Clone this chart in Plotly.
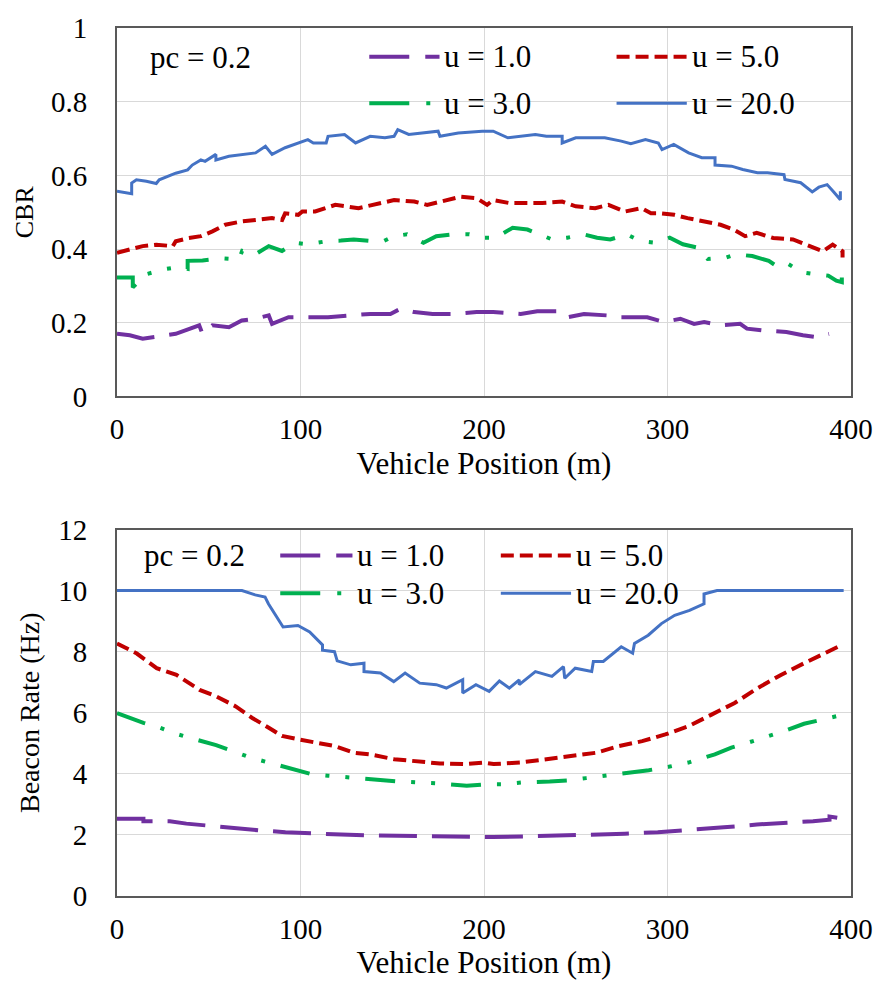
import plotly.graph_objects as go

# ---------------- CBR vs vehicle position (pc = 0.2) ----------------
cbr_u1_x = [0, 7, 14, 23, 32, 44.8, 46.6, 52, 61, 68, 75.5, 82.7, 84.5, 93.5, 104, 115, 127.6, 138, 149, 154.5,
            162, 172, 183, 196, 205, 220, 229, 242, 245.5, 254.5, 267, 274.8, 289, 298, 307, 314.5, 320, 329,
            339.6, 343.3, 352, 364.8, 373.8, 381, 388]
cbr_u1_y = [0.170, 0.166, 0.157, 0.164, 0.170, 0.193, 0.170, 0.193, 0.188, 0.206, 0.211, 0.220, 0.197, 0.215,
            0.215, 0.215, 0.220, 0.224, 0.224, 0.238, 0.229, 0.224, 0.224, 0.229, 0.229, 0.224, 0.231, 0.231,
            0.215, 0.224, 0.220, 0.215, 0.215, 0.202, 0.211, 0.197, 0.202, 0.193, 0.197, 0.184, 0.179, 0.175,
            0.166, 0.161, 0.170]

cbr_u3_x = [0, 8.6, 8.6, 16, 26.7, 32, 38.5, 38.5, 46.6, 57.4, 66.4, 68.2, 75.5, 82.7, 89.9, 97, 104, 115, 122,
            129, 138.2, 145.4, 150.8, 158, 167, 174, 183, 192, 199.6, 206.5, 215.6, 223.7, 232.7, 237.2, 245.4,
            254.4, 261.6, 268.8, 277.8, 285, 294, 301.2, 308.4, 316.5, 321.9, 331.8, 337.2, 346.2, 355.2, 360.6,
            366, 373.2, 380.4, 387.6, 392, 395, 395]
cbr_u3_y = [0.323, 0.323, 0.296, 0.332, 0.346, 0.350, 0.346, 0.368, 0.369, 0.375, 0.372, 0.395, 0.386, 0.408,
            0.395, 0.417, 0.413, 0.422, 0.423, 0.426, 0.422, 0.422, 0.435, 0.440, 0.417, 0.435, 0.440, 0.440,
            0.431, 0.431, 0.458, 0.453, 0.435, 0.426, 0.431, 0.440, 0.431, 0.426, 0.440, 0.422, 0.417, 0.431,
            0.413, 0.404, 0.373, 0.377, 0.386, 0.381, 0.368, 0.350, 0.359, 0.337, 0.332, 0.328, 0.314, 0.310,
            0.323]

cbr_u5_x = [0, 7, 14, 21.4, 30.4, 32, 39, 45.7, 52, 59, 68, 75.5, 84.5, 90, 91.6, 98.8, 101, 108, 119, 131.6,
            140.6, 151, 162, 169, 176.6, 187, 196, 201.7, 205, 213.7, 231.7, 242.6, 250, 260.6, 267.8, 276.8,
            285.8, 291, 296.6, 303.7, 310.9, 319.9, 328.9, 336, 342.3, 348.6, 357.6, 368.4, 375.6, 384.6, 390,
            395.4, 395.4]
cbr_u5_y = [0.390, 0.399, 0.408, 0.412, 0.408, 0.421, 0.430, 0.435, 0.448, 0.466, 0.475, 0.479, 0.484, 0.479,
            0.497, 0.493, 0.502, 0.502, 0.520, 0.511, 0.520, 0.533, 0.529, 0.520, 0.529, 0.542, 0.538, 0.520,
            0.533, 0.525, 0.525, 0.529, 0.516, 0.511, 0.520, 0.502, 0.511, 0.497, 0.497, 0.493, 0.484, 0.475,
            0.466, 0.453, 0.435, 0.444, 0.430, 0.426, 0.412, 0.394, 0.412, 0.394, 0.377]

cbr_u20_x = [0, 8, 8, 10.6, 16, 21.4, 23, 32, 38.5, 41, 45.7, 48, 53.9, 53.9, 61, 68, 75.5, 80.9, 84.5, 91.6,
             97, 104, 107, 114, 115, 124, 130, 138, 146, 151, 153, 159, 175, 176, 186, 199, 205, 213, 228, 234,
             242.6, 242.6, 250, 265.8, 274.8, 280, 288, 295, 297, 303.4, 311.5, 318.7, 325.9, 325.9, 334.9, 341,
             349, 354.5, 363.5, 364, 372.6, 378.9, 382.5, 387, 390.6, 394.2, 394.2]
cbr_u20_y = [0.557, 0.550, 0.579, 0.588, 0.584, 0.578, 0.588, 0.606, 0.615, 0.628, 0.642, 0.638, 0.657, 0.642,
             0.652, 0.657, 0.661, 0.679, 0.657, 0.675, 0.684, 0.697, 0.688, 0.688, 0.706, 0.711, 0.688, 0.706,
             0.702, 0.706, 0.724, 0.711, 0.720, 0.706, 0.715, 0.720, 0.720, 0.702, 0.711, 0.706, 0.706, 0.688,
             0.702, 0.702, 0.693, 0.686, 0.697, 0.688, 0.670, 0.684, 0.661, 0.648, 0.648, 0.628, 0.625, 0.616,
             0.607, 0.607, 0.602, 0.589, 0.580, 0.555, 0.568, 0.575, 0.555, 0.534, 0.557]

# ---------------- Beacon rate vs vehicle position (pc = 0.2) ----------------
br_u1_x = [0, 14.4, 14.4, 28.8, 37.8, 50.4, 63, 77.4, 91.8, 107.8, 122.2, 140.2, 158.2, 176.3, 194.2, 204.8,
           222.8, 240.8, 258.7, 276.7, 294.7, 312.7, 330.7, 348.7, 366.7, 379.3, 388.3, 388.3, 395.5]
br_u1_y = [2.53, 2.53, 2.45, 2.45, 2.37, 2.29, 2.24, 2.15, 2.09, 2.04, 2.01, 1.98, 1.97, 1.94, 1.93, 1.93,
           1.95, 1.98, 1.98, 2.04, 2.09, 2.16, 2.25, 2.34, 2.39, 2.45, 2.50, 2.60, 2.53]

br_u3_x = [0, 14.4, 22.5, 30.6, 39.6, 54, 63, 72.8, 82.7, 98.8, 106, 115, 125.8, 142.9, 153.7, 163.6, 174.4,
           190.6, 201.4, 210.6, 221.4, 235.8, 246.6, 255.6, 266.4, 280.8, 289.8, 300.6, 311.4, 325.8, 334.8,
           343.8, 352.8, 363.6, 374.4, 383.4, 392.4, 395]
br_u3_y = [5.99, 5.67, 5.53, 5.34, 5.18, 4.94, 4.75, 4.53, 4.37, 4.10, 3.99, 3.94, 3.88, 3.79, 3.75, 3.72, 3.69,
           3.61, 3.66, 3.66, 3.72, 3.75, 3.79, 3.86, 3.94, 4.05, 4.12, 4.23, 4.37, 4.64, 4.86, 5.02, 5.18, 5.40,
           5.64, 5.78, 5.89, 6.05]

br_u5_x = [0, 10.8, 21.6, 32.4, 45, 54, 64.7, 73.7, 82.7, 89.9, 98.8, 107.8, 118.6, 129.4, 138.4, 151, 163.6,
           176, 188.8, 199.6, 205.2, 219.6, 234, 248.4, 261, 273.6, 286.2, 298.8, 311.4, 324, 336.6, 349.2,
           361.8, 374.4, 385.2, 395]
br_u5_y = [8.27, 7.94, 7.46, 7.24, 6.75, 6.54, 6.21, 5.83, 5.51, 5.24, 5.13, 5.02, 4.91, 4.69, 4.63, 4.48, 4.42,
           4.34, 4.32, 4.37, 4.32, 4.37, 4.48, 4.59, 4.69, 4.91, 5.07, 5.29, 5.56, 5.94, 6.32, 6.81, 7.24, 7.62,
           7.94, 8.22]

br_u20_x = [0, 68.1, 75.3, 80.7, 82.5, 86, 90.5, 98.6, 105, 112, 112, 118.5, 120, 127.4, 134.6, 134.6, 143.6,
            150.8, 157, 165, 174, 179.5, 188.4, 188.4, 195.6, 202.8, 208.4, 213.8, 219.2, 219.2, 228, 237, 243.3,
            244, 249.7, 258.7, 259.6, 265, 274.8, 281, 282, 289.5, 296.7, 303.9, 312, 319.9, 319.9, 327, 396]
br_u20_y = [10.0, 10.0, 9.86, 9.79, 9.57, 9.25, 8.81, 8.86, 8.65, 8.22, 8.05, 8.0, 7.70, 7.57, 7.62, 7.35, 7.30,
            7.02, 7.30, 6.97, 6.92, 6.81, 7.08, 6.65, 6.92, 6.70, 7.04, 6.81, 7.08, 6.92, 7.35, 7.19, 7.51, 7.13,
            7.46, 7.35, 7.68, 7.68, 8.16, 7.95, 8.27, 8.54, 8.92, 9.19, 9.35, 9.57, 9.89, 10.0, 10.0]

x_ticks = [0, 100, 200, 300, 400]
cbr_ticks = [0, 0.2, 0.4, 0.6, 0.8, 1]
br_ticks = [0, 2, 4, 6, 8, 10, 12]

series_names = ["u = 1.0", "u = 3.0", "u = 5.0", "u = 20.0"]
series_colors = ["#7030A0", "#00B050", "#C00000", "#4472C4"]
series_widths = [4, 4, 4, 3]
series_dash = ["38px,15px", "30px,16px,4px,16px,4px,16px", "13px,6px", "solid"]
legend_dash = ["40px,16px", "40px,17px,4px,60px", "13px,6px", "solid"]

FONT = "Liberation Serif, Times New Roman, serif"

cbr = [(cbr_u1_x, cbr_u1_y), (cbr_u3_x, cbr_u3_y), (cbr_u5_x, cbr_u5_y), (cbr_u20_x, cbr_u20_y)]
br = [(br_u1_x, br_u1_y), (br_u3_x, br_u3_y), (br_u5_x, br_u5_y), (br_u20_x, br_u20_y)]

fig = go.Figure()
for i, (xs, ys) in enumerate(cbr):
    fig.add_trace(go.Scatter(x=xs, y=ys, mode="lines", name=series_names[i], showlegend=False,
                             line=dict(color=series_colors[i], width=series_widths[i], dash=series_dash[i]),
                             xaxis="x", yaxis="y"))
for i, (xs, ys) in enumerate(br):
    fig.add_trace(go.Scatter(x=xs, y=ys, mode="lines", name=series_names[i], showlegend=False,
                             line=dict(color=series_colors[i], width=series_widths[i], dash=series_dash[i]),
                             xaxis="x2", yaxis="y2"))

axis_common = dict(showgrid=True, gridcolor="#D9D9D9", gridwidth=1.2, zeroline=False,
                   showline=True, linecolor="#595959", linewidth=2, mirror=True,
                   ticks="outside", tickcolor="rgba(0,0,0,0)",
                   tickfont=dict(family=FONT, size=29, color="#000000"))

xcommon = dict(axis_common, range=[0, 400], tickvals=x_ticks, ticklen=6,
               title=dict(text="Vehicle Position (m)", font=dict(family=FONT, size=31, color="#000000"),
                          standoff=8))

fig.update_layout(
    width=885, height=990,
    margin=dict(l=117, r=26, t=22, b=94),
    paper_bgcolor="white", plot_bgcolor="white",
    xaxis=dict(xcommon, domain=[0, 1], anchor="y"),
    yaxis=dict(axis_common, domain=[0.5755, 1.0], anchor="x", range=[0, 1], tickvals=cbr_ticks, ticklen=22,
               title=dict(text="CBR", font=dict(family=FONT, size=26, color="#000000"), standoff=10)),
    xaxis2=dict(xcommon, domain=[0, 1], anchor="y2"),
    yaxis2=dict(axis_common, domain=[0, 0.4222], anchor="x2", range=[0, 12], tickvals=br_ticks, ticklen=22,
                title=dict(text="Beacon Rate (Hz)", font=dict(family=FONT, size=28, color="#000000"),
                           standoff=10)),
)

# in-plot legends: (x start, x end of sample) per column, y per row, in axis-domain units
legend_layout = [
    dict(xref="x domain", yref="y domain", pc=(0.0418, 0.919),
         cols=[(0.3437, 0.4394), (0.6806, 0.7763)], rows=[0.922, 0.796]),
    dict(xref="x2 domain", yref="y2 domain", pc=(0.0337, 0.929),
         cols=[(0.2224, 0.3208), (0.5229, 0.6186)], rows=[0.929, 0.826]),
]
# series order in the legend grid: row 1 -> u=1.0, u=5.0 ; row 2 -> u=3.0, u=20.0
grid = {0: (0, 0), 2: (0, 1), 1: (1, 0), 3: (1, 1)}

annotations = []
shapes = []
for lg in legend_layout:
    annotations.append(dict(xref=lg["xref"], yref=lg["yref"], x=lg["pc"][0], y=lg["pc"][1], text="pc = 0.2",
                            showarrow=False, xanchor="left", yanchor="middle",
                            font=dict(family=FONT, size=31, color="#000000")))
    for i in range(4):
        r, c = grid[i]
        x0, x1 = lg["cols"][c]
        yy = lg["rows"][r]
        shapes.append(dict(type="line", xref=lg["xref"], yref=lg["yref"], x0=x0, x1=x1, y0=yy, y1=yy,
                           line=dict(color=series_colors[i], width=series_widths[i], dash=legend_dash[i])))
        annotations.append(dict(xref=lg["xref"], yref=lg["yref"], x=x1 + 0.004, y=yy, text=series_names[i],
                                showarrow=False, xanchor="left", yanchor="middle",
                                font=dict(family=FONT, size=31, color="#000000")))

fig.update_layout(annotations=annotations, shapes=shapes)
fig.write_html("out.html")
